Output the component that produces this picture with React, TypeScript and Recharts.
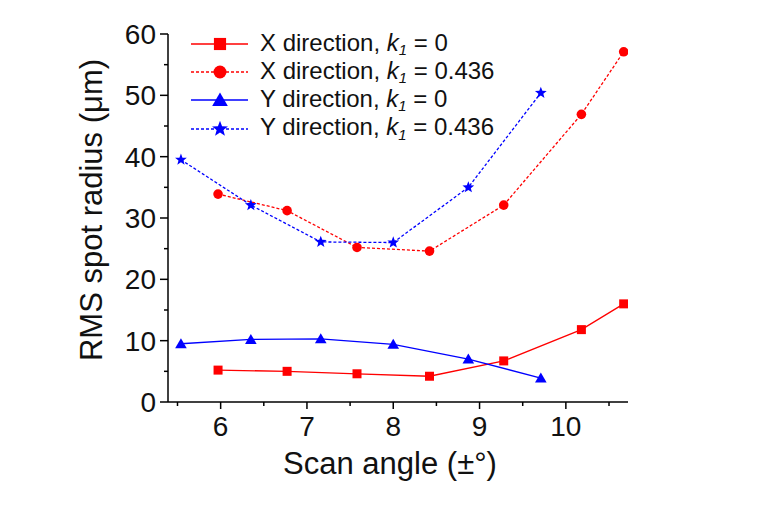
import { LineChart, Line, XAxis, YAxis, Legend } from "recharts";

// scan angles (deg) for the two scan directions
const xDirAngles = [5.97, 6.77, 7.58, 8.42, 9.28, 10.18, 10.67];
const xDirK0 = [5.2, 5.0, 4.6, 4.2, 6.7, 11.8, 16.0];
const xDirK436 = [33.9, 31.2, 25.2, 24.6, 32.1, 46.9, 57.1];

const yDirAngles = [5.54, 6.35, 7.16, 8.0, 8.87, 9.71];
const yDirK0 = [9.5, 10.2, 10.3, 9.4, 7.0, 3.9];
const yDirK436 = [39.5, 32.1, 26.1, 26.0, 35.0, 50.4];

const xTicks = [5.5, 6, 6.5, 7, 7.5, 8, 8.5, 9, 9.5, 10, 10.5];
const yTicks = [0, 5, 10, 15, 20, 25, 30, 35, 40, 45, 50, 55, 60];

const xDirData = xDirAngles.map((a, i) => ({ angle: a, k0: xDirK0[i], k436: xDirK436[i] }));
const yDirData = yDirAngles.map((a, i) => ({ angle: a, k0: yDirK0[i], k436: yDirK436[i] }));

const RED = "#ff0000";
const BLUE = "#0000ff";
const FONT = "'Liberation Sans', Arial, sans-serif";

type Shape = "square" | "circle" | "triangle" | "star";

const series: { id: string; dir: string; k: string; color: string; dash?: string; shape: Shape; data: any[]; key: string }[] = [
  { id: "xk0", dir: "X", k: "0", color: RED, shape: "square", data: xDirData, key: "k0" },
  { id: "xk436", dir: "X", k: "0.436", color: RED, dash: "3 2", shape: "circle", data: xDirData, key: "k436" },
  { id: "yk0", dir: "Y", k: "0", color: BLUE, shape: "triangle", data: yDirData, key: "k0" },
  { id: "yk436", dir: "Y", k: "0.436", color: BLUE, dash: "3 2", shape: "star", data: yDirData, key: "k436" },
];

function Marker({ shape, cx, cy, color, s = 1 }: { shape: Shape; cx: number; cy: number; color: string; s?: number }) {
  if (shape === "square") return <rect x={cx - 4.5 * s} y={cy - 4.5 * s} width={9 * s} height={9 * s} fill={color} />;
  if (shape === "circle") return <circle cx={cx} cy={cy} r={4.8 * s} fill={color} />;
  if (shape === "triangle")
    return (
      <polygon
        points={`${cx},${cy - 5.5 * s} ${cx - 5.8 * s},${cy + 4.5 * s} ${cx + 5.8 * s},${cy + 4.5 * s}`}
        fill={color}
      />
    );
  const pts: string[] = [];
  for (let i = 0; i < 10; i++) {
    const r = (i % 2 === 0 ? 6.2 : 2.6) * s;
    const a = -Math.PI / 2 + (i * Math.PI) / 5;
    pts.push(`${cx + r * Math.cos(a)},${cy + r * Math.sin(a)}`);
  }
  return <polygon points={pts.join(" ")} fill={color} />;
}

const renderXTick = (props: any) => {
  const { x, y, payload } = props;
  const major = Number.isInteger(payload.value);
  return (
    <g>
      <line x1={x} y1={y} x2={x} y2={y + (major ? 7 : 4)} stroke="#000" strokeWidth={1.5} />
      {major && (
        <text x={x} y={y + 34} textAnchor="middle" fontSize={28} fill="#111">
          {payload.value}
        </text>
      )}
    </g>
  );
};

const renderYTick = (props: any) => {
  const { x, y, payload } = props;
  const major = payload.value % 10 === 0;
  return (
    <g>
      <line x1={x - (major ? 8 : 4)} y1={y} x2={x} y2={y} stroke="#000" strokeWidth={1.5} />
      {major && (
        <text x={x - 12} y={y + 10} textAnchor="end" fontSize={28} fill="#111">
          {payload.value}
        </text>
      )}
    </g>
  );
};

const renderLegend = () => (
  <div style={{ fontFamily: FONT, fontSize: 24, color: "#111" }}>
    {series.map((s) => (
      <div key={s.id} style={{ display: "flex", alignItems: "center", height: 28.2 }}>
        <svg width={60} height={28}>
          <line x1={1} y1={14} x2={58} y2={14} stroke={s.color} strokeWidth={1.3} strokeDasharray={s.dash} />
          <Marker shape={s.shape} cx={30} cy={14} color={s.color} s={1.35} />
        </svg>
        <span style={{ marginLeft: 10, whiteSpace: "nowrap", lineHeight: "28px" }}>
          {s.dir} direction, <i>k</i>
          <i style={{ fontSize: "0.62em", position: "relative", top: "0.3em" }}>1</i> = {s.k}
        </span>
      </div>
    ))}
  </div>
);

export default function App() {
  return (
    <div style={{ position: "absolute", left: 0, top: 0, fontFamily: FONT, background: "#fff" }}>
      <LineChart width={778} height={510} margin={{ top: 34, right: 150, left: 0, bottom: 0 }}>
        <XAxis
          type="number"
          dataKey="angle"
          domain={[5.39, 10.72]}
          ticks={xTicks}
          interval={0}
          allowDataOverflow
          tickSize={0}
          tickMargin={0}
          tickLine={false}
          tick={renderXTick}
          axisLine={{ stroke: "#000", strokeWidth: 1.5 }}
          height={108}
          label={{
            content: () => (
              <text x={390} y={474} textAnchor="middle" fontSize={31} fill="#111">
                Scan angle (±°)
              </text>
            ),
          }}
        />
        <YAxis
          type="number"
          domain={[0, 60]}
          ticks={yTicks}
          interval={0}
          tickSize={0}
          tickMargin={0}
          tickLine={false}
          tick={renderYTick}
          axisLine={{ stroke: "#000", strokeWidth: 1.5 }}
          width={168}
          label={{
            content: () => (
              <text x={102} y={210} transform="rotate(-90 102 210)" textAnchor="middle" fontSize={31} fill="#111">
                RMS spot radius (μm)
              </text>
            ),
          }}
        />
        <Legend
          layout="horizontal"
          verticalAlign="middle"
          align="center"
          content={renderLegend}
          wrapperStyle={{ left: 190, top: 30, width: "auto", height: "auto" }}
        />
        {series.map((s) => (
          <Line
            key={s.id}
            data={s.data}
            dataKey={s.key}
            type="linear"
            stroke={s.color}
            strokeWidth={1.3}
            strokeDasharray={s.dash}
            isAnimationActive={false}
            dot={(p: any) => <Marker key={`${s.id}-${p.index}`} shape={s.shape} cx={p.cx} cy={p.cy} color={s.color} />}
            activeDot={false}
          />
        ))}
      </LineChart>
    </div>
  );
}
